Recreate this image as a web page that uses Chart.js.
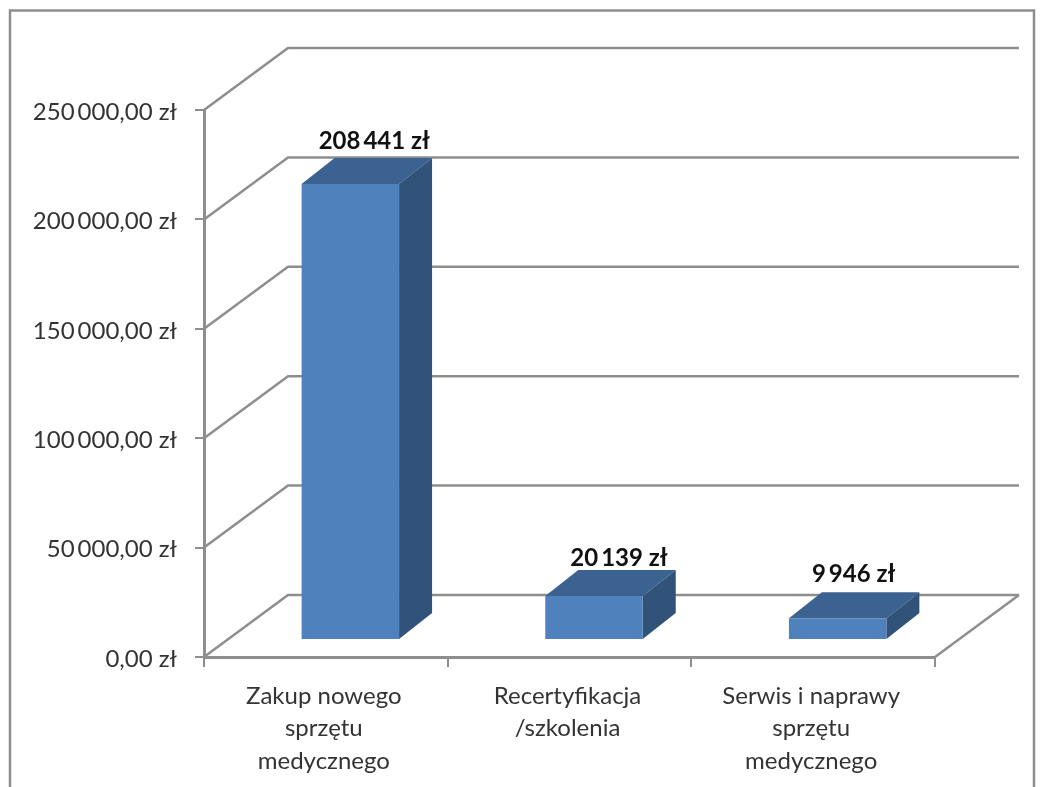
<!DOCTYPE html>
<html><head><meta charset="utf-8">
<style>html,body{margin:0;padding:0;background:#fff;overflow:hidden}#w{position:absolute;left:0;top:0;width:1044px;height:787px}</style>
<script src="https://cdn.jsdelivr.net/npm/chart.js@4"></script>
</head><body><div id="w"><canvas id="c" width="1044" height="787"></canvas></div>
<script>
const categories = [["Zakup nowego","sprzętu","medycznego"],["Recertyfikacja","/szkolenia"],["Serwis i naprawy","sprzętu","medycznego"]];
const values = [208441, 20139, 9946];
const yTicks = [0, 50000, 100000, 150000, 200000, 250000];

const LINE = '#8e8e8e', FONT = 'Lato, Carlito, sans-serif';
const WALL = {dx:84, dy:-62};      // floor depth of the 3D box
const BAR = {dx:33, dy:-26, shiftX:24.5, shiftY:-17}; // bar depth and its placement on the floor
const LABEL_SHIFT = [{x:24,y:-43},{x:25,y:-38},{x:16,y:-44}];

const group = n => String(n).replace(/\B(?=(\d{3})+$)/g, '\u2009');

const box3d = {
  id:'box3d',
  beforeDraw(chart){
    const {ctx,width,height} = chart;
    ctx.save();
    ctx.fillStyle='#fff'; ctx.fillRect(0,0,width,height);
    ctx.strokeStyle=LINE; ctx.lineWidth=2.5;
    ctx.beginPath(); ctx.moveTo(10,height+5); ctx.lineTo(10,10.5); ctx.lineTo(1034,10.5); ctx.lineTo(1034,height+5); ctx.stroke();
    ctx.restore();
  },
  beforeDatasetsDraw(chart){
    const {ctx,scales:{x,y}} = chart;
    const l=x.left, r=x.right;
    ctx.save(); ctx.strokeStyle=LINE; ctx.lineWidth=2.5;
    yTicks.forEach(v=>{
      const p=y.getPixelForValue(v);
      ctx.beginPath(); ctx.moveTo(l,p); ctx.lineTo(l+WALL.dx,p+WALL.dy); ctx.lineTo(r+WALL.dx,p+WALL.dy); ctx.stroke();
    });
    const p0=y.getPixelForValue(0);
    ctx.beginPath(); ctx.moveTo(r,p0); ctx.lineTo(r+WALL.dx,p0+WALL.dy); ctx.stroke();
    ctx.restore();
  },
  beforeDatasetDraw(chart){
    const {ctx}=chart;
    ctx.save(); ctx.translate(BAR.shiftX,BAR.shiftY);
    chart.getDatasetMeta(0).data.forEach(b=>{
      const xl=b.x-b.width/2, xr=b.x+b.width/2, t=b.y, bt=b.base;
      ctx.fillStyle='#3c6291';
      ctx.beginPath(); ctx.moveTo(xl,t); ctx.lineTo(xl+BAR.dx,t+BAR.dy); ctx.lineTo(xr+BAR.dx,t+BAR.dy); ctx.lineTo(xr,t); ctx.closePath(); ctx.fill();
      ctx.fillStyle='#325379';
      ctx.beginPath(); ctx.moveTo(xr,t); ctx.lineTo(xr+BAR.dx,t+BAR.dy); ctx.lineTo(xr+BAR.dx,bt+BAR.dy); ctx.lineTo(xr,bt); ctx.closePath(); ctx.fill();
    });
  },
  afterDatasetDraw(chart){ chart.ctx.restore(); },
  afterDraw(chart){
    const {ctx}=chart;
    ctx.save();
    ctx.font='bold 24px '+FONT; ctx.fillStyle='#111'; ctx.textAlign='center'; ctx.textBaseline='middle';
    chart.getDatasetMeta(0).data.forEach((b,i)=>{
      ctx.fillText(group(values[i])+' zł', b.x+BAR.shiftX+LABEL_SHIFT[i].x, b.y+BAR.shiftY+LABEL_SHIFT[i].y);
    });
    ctx.restore();
  }
};

new Chart(document.getElementById('c'),{
  type:'bar',
  data:{labels:categories,datasets:[{data:values,backgroundColor:'#4f81bd',borderWidth:0,barPercentage:0.4,categoryPercentage:1}]},
  options:{
    responsive:false,animation:false,
    layout:{padding:{left:0,top:110,right:109,bottom:0}},
    plugins:{legend:{display:false},title:{display:false},tooltip:{enabled:false}},
    scales:{
      x:{
        afterFit(s){s.height=130;},
        grid:{color:LINE,lineWidth:2,drawOnChartArea:false,tickLength:10,offset:true},
        border:{color:LINE,width:3},
        ticks:{color:'#333',padding:13,labelOffset:-2,maxRotation:0,autoSkip:false,font:{family:FONT,size:24,lineHeight:1.35}}
      },
      y:{
        min:0,max:250000,
        afterFit(s){s.width=204;},
        afterBuildTicks(s){s.ticks=yTicks.map(v=>({value:v}));},
        grid:{color:LINE,lineWidth:2,drawOnChartArea:false,tickLength:9},
        border:{color:LINE,width:3},
        ticks:{color:'#333',padding:18,labelOffset:2,font:{family:FONT,size:24},callback:v=>group(v)+',00 zł'}
      }
    }
  },
  plugins:[box3d]
});
</script></body></html>
